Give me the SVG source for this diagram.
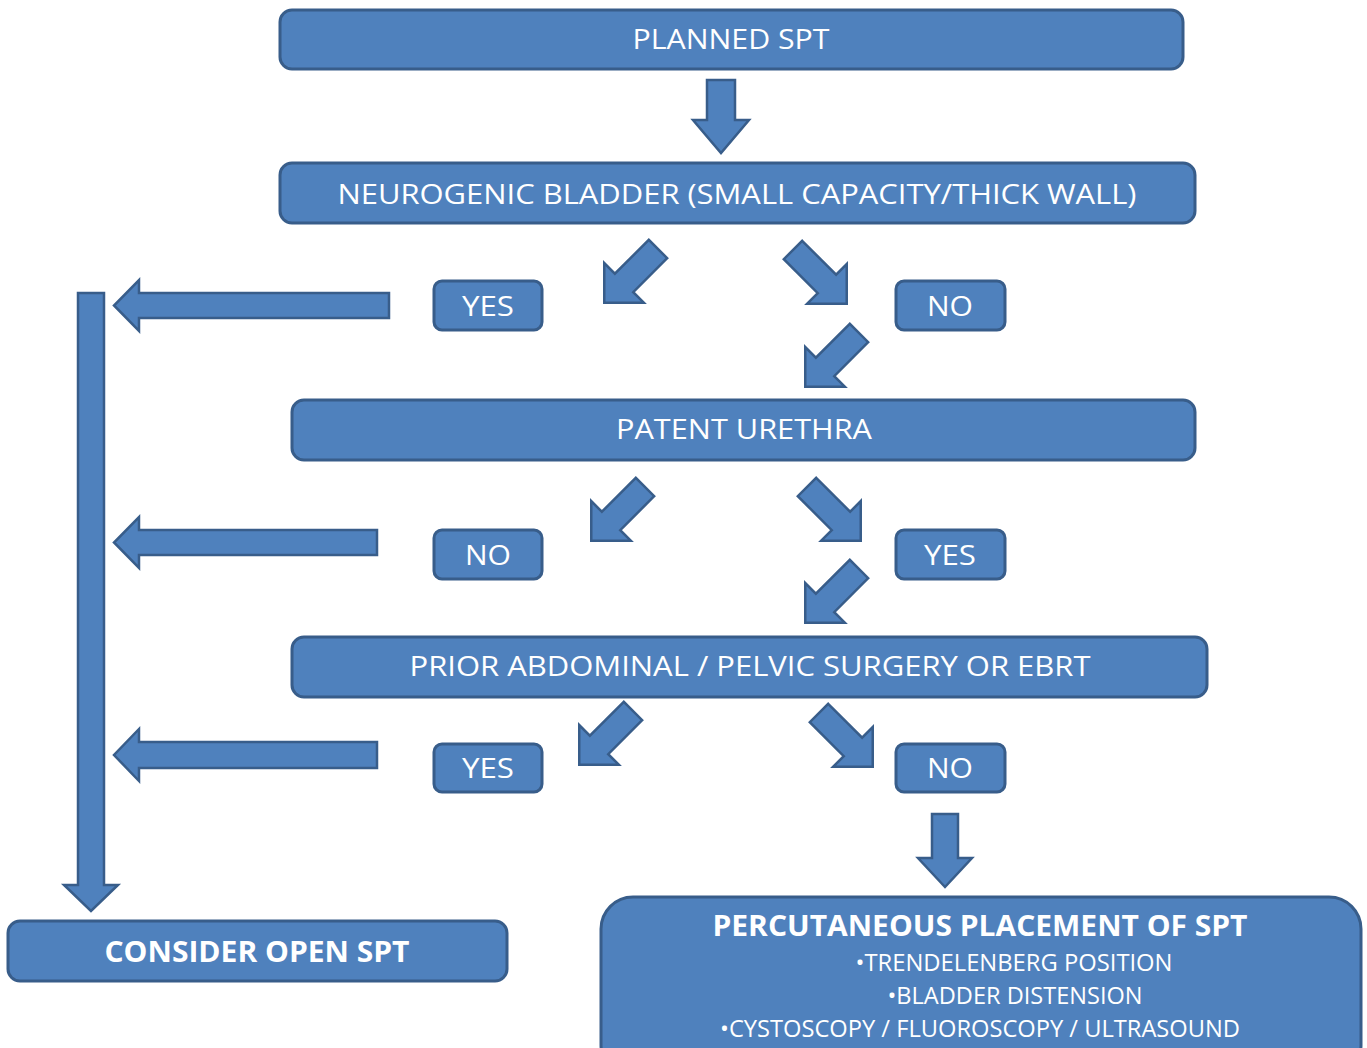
<svg xmlns="http://www.w3.org/2000/svg" xmlns:xlink="http://www.w3.org/1999/xlink" width="1367" height="1048" viewBox="0 0 1367 1048">
<style>
.box{fill:#4F81BD;stroke:#385D8A;stroke-width:3}
.arr{fill:#4F81BD;stroke:#385D8A;stroke-width:2.5;stroke-linejoin:miter}
text{font-family:"Open Sans","Liberation Sans",sans-serif;fill:#fff;text-anchor:middle}
.t{font-size:28px}
.b{font-size:29px;font-weight:bold}
.s{font-size:24px}
</style>
<defs>
<path id="diag" d="M0,-13 H48 V-28 L76,0 L48,28 V13 H0 Z"/>
</defs>
<rect width="1367" height="1048" fill="#fff"/>
<g id="connectors">
<!-- vertical down arrows -->
<path class="arr" d="M707,80 H735 V120 H749 L721,153 L693,120 H707 Z"/>
<path class="arr" d="M932,814 H958 V858 H972 L945,887 L918,858 H932 Z"/>
<!-- left arrows -->
<path class="arr" d="M389,293 H139 V280 L114,305.5 L139,331 V318 H389 Z"/>
<path class="arr" d="M377,530 H139 V517 L114,542.5 L139,568 V555 H377 Z"/>
<path class="arr" d="M377,742 H139 V729 L114,755 L139,781 V768 H377 Z"/>
<!-- long vertical arrow -->
<path class="arr" d="M78,293 H104 V885 H118 L91,911 L64,885 H78 Z"/>
<!-- diagonal arrows -->
<use href="#diag" class="arr" transform="translate(658,249) rotate(135)"/>
<use href="#diag" class="arr" transform="translate(793,250) rotate(45)"/>
<use href="#diag" class="arr" transform="translate(859,333) rotate(135)"/>
<use href="#diag" class="arr" transform="translate(645,487) rotate(135)"/>
<use href="#diag" class="arr" transform="translate(807,487) rotate(45)"/>
<use href="#diag" class="arr" transform="translate(859,569) rotate(135)"/>
<use href="#diag" class="arr" transform="translate(633,711) rotate(135)"/>
<use href="#diag" class="arr" transform="translate(819,713) rotate(45)"/>
</g>
<g id="planned">
<rect class="box" x="280" y="10" width="903" height="59" rx="12"/>
<text class="t" x="731" y="49" textLength="197" lengthAdjust="spacingAndGlyphs">PLANNED SPT</text>
</g>
<g id="neurogenic">
<rect class="box" x="280" y="163" width="915" height="60" rx="12"/>
<text class="t" x="737" y="204" textLength="799" lengthAdjust="spacingAndGlyphs">NEUROGENIC BLADDER (SMALL CAPACITY/THICK WALL)</text>
</g>
<g id="yes1">
<rect class="box" x="434" y="281" width="108" height="49" rx="8"/>
<text class="t" x="488" y="316" textLength="52" lengthAdjust="spacingAndGlyphs">YES</text>
</g>
<g id="no1">
<rect class="box" x="896" y="281" width="109" height="49" rx="8"/>
<text class="t" x="950" y="316" textLength="46" lengthAdjust="spacingAndGlyphs">NO</text>
</g>
<g id="patent">
<rect class="box" x="292" y="400" width="903" height="60" rx="12"/>
<text class="t" x="744" y="439" textLength="256" lengthAdjust="spacingAndGlyphs">PATENT URETHRA</text>
</g>
<g id="no2">
<rect class="box" x="434" y="530" width="108" height="49" rx="8"/>
<text class="t" x="488" y="565" textLength="46" lengthAdjust="spacingAndGlyphs">NO</text>
</g>
<g id="yes2">
<rect class="box" x="896" y="530" width="109" height="49" rx="8"/>
<text class="t" x="950" y="565" textLength="52" lengthAdjust="spacingAndGlyphs">YES</text>
</g>
<g id="prior">
<rect class="box" x="292" y="637" width="915" height="60" rx="12"/>
<text class="t" x="750" y="676" textLength="681" lengthAdjust="spacingAndGlyphs">PRIOR ABDOMINAL / PELVIC SURGERY OR EBRT</text>
</g>
<g id="yes3">
<rect class="box" x="434" y="744" width="108" height="48" rx="8"/>
<text class="t" x="488" y="778" textLength="52" lengthAdjust="spacingAndGlyphs">YES</text>
</g>
<g id="no3">
<rect class="box" x="896" y="744" width="109" height="48" rx="8"/>
<text class="t" x="950" y="778" textLength="46" lengthAdjust="spacingAndGlyphs">NO</text>
</g>
<g id="consider">
<rect class="box" x="8" y="921" width="499" height="60" rx="12"/>
<text class="b" x="257" y="962" textLength="305" lengthAdjust="spacingAndGlyphs">CONSIDER OPEN SPT</text>
</g>
<g id="percutaneous">
<rect class="box" x="601" y="897" width="760" height="180" rx="32"/>
<text class="b" x="980" y="936" textLength="535" lengthAdjust="spacingAndGlyphs">PERCUTANEOUS PLACEMENT OF SPT</text>
<text class="s" x="1014" y="971" textLength="317" lengthAdjust="spacingAndGlyphs">•TRENDELENBERG POSITION</text>
<text class="s" x="1015" y="1004" textLength="255" lengthAdjust="spacingAndGlyphs">•BLADDER DISTENSION</text>
<text class="s" x="980" y="1037" textLength="520" lengthAdjust="spacingAndGlyphs">•CYSTOSCOPY / FLUOROSCOPY / ULTRASOUND</text>
</g>
</svg>
